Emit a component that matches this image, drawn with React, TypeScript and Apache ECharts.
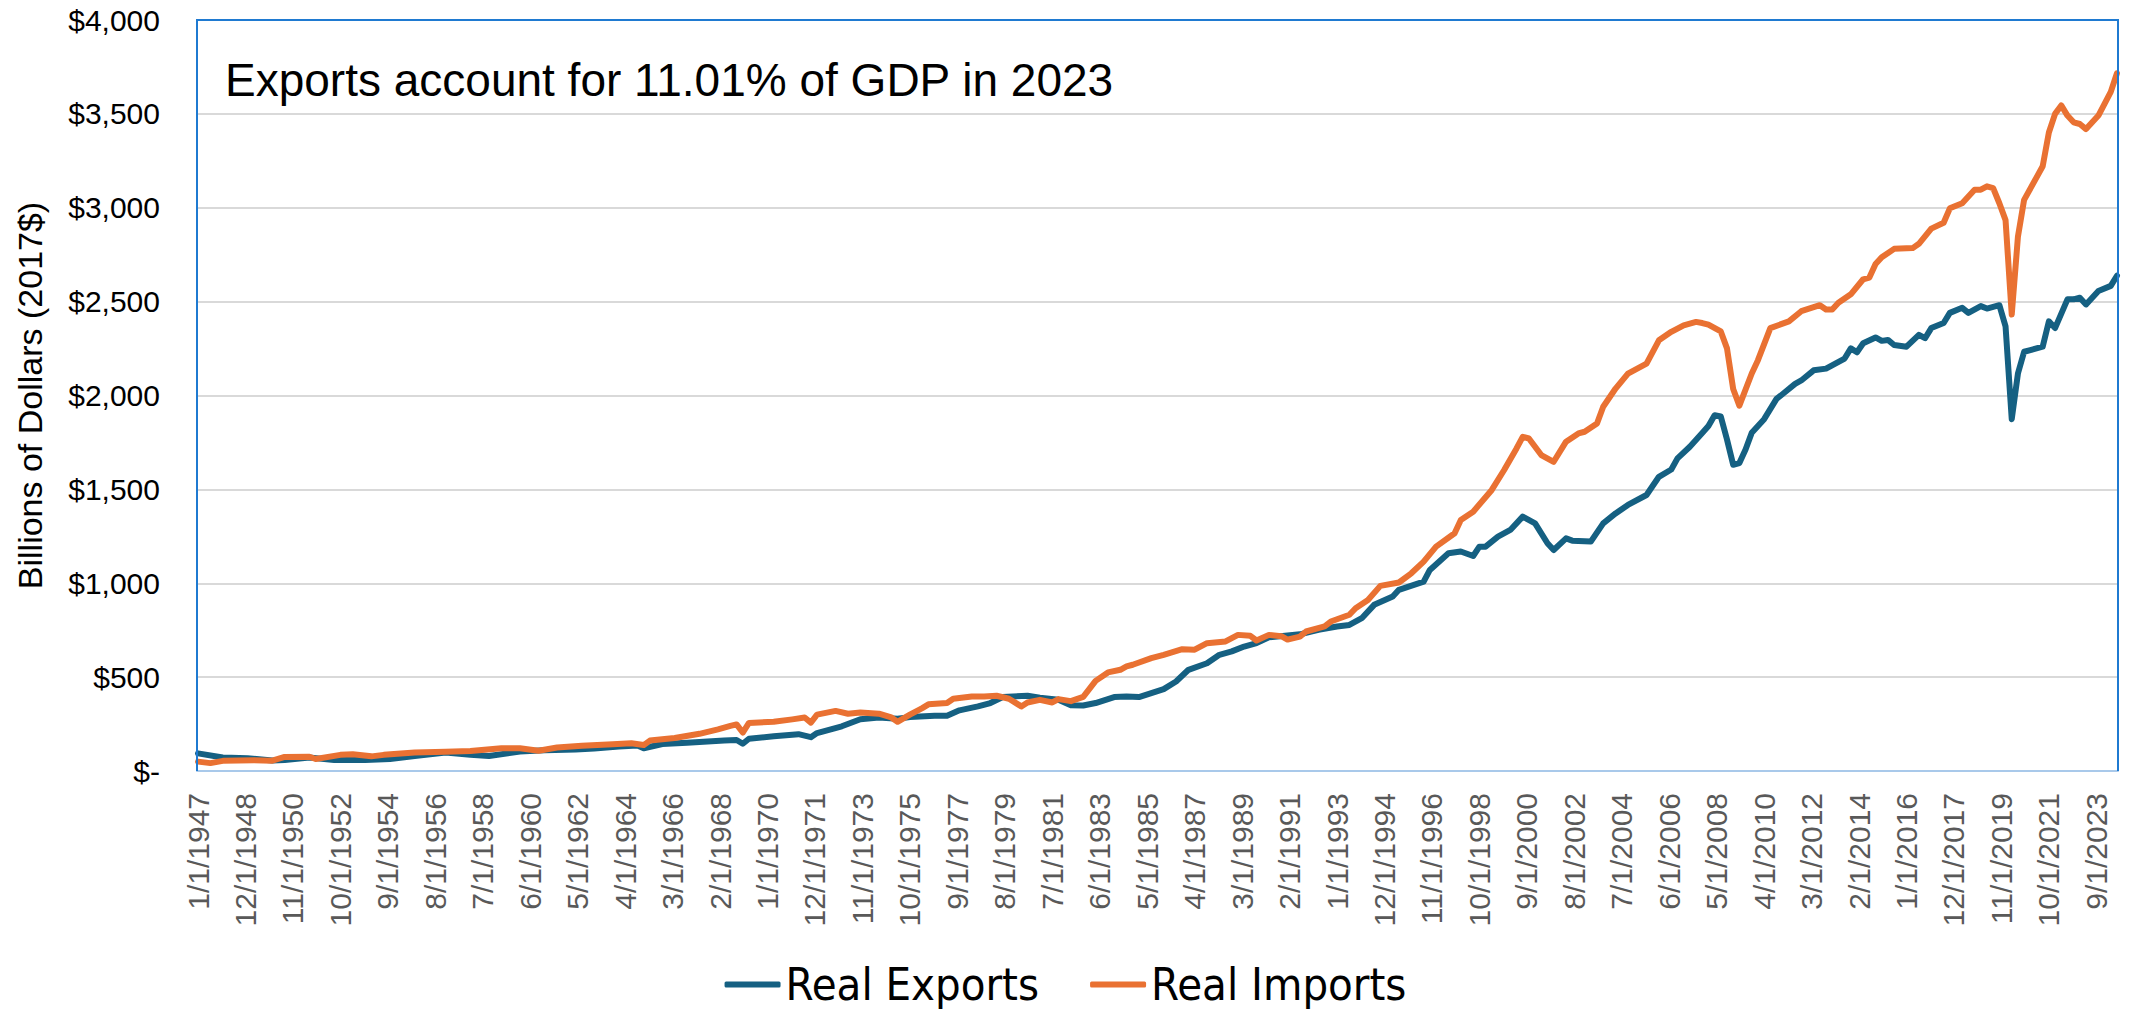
import React, { useEffect, useRef } from "react";
import * as echarts from "echarts";

// Monthly category axis 1/1/1947 .. 7/1/2024 (quarterly observations placed on it)
const startYear = 1947;
const endYear = 2024;
const endMonth = 7;
const categories: string[] = [];
for (let y = startYear; y <= endYear; y++) {
  for (let m = 1; m <= 12; m++) {
    if (y === endYear && m > endMonth) break;
    categories.push(`${m}/1/${y}`);
  }
}

const yTicks = [0, 500, 1000, 1500, 2000, 2500, 3000, 3500, 4000];

// Real Exports, billions of chained 2017 dollars
const exportsData: [string, number][] = [
  ["1947-01", 94], ["1948-01", 72], ["1949-01", 68], ["1950-01", 56], ["1950-07", 58],
  ["1951-07", 72], ["1952-07", 58], ["1953-10", 58], ["1954-10", 64], ["1955-10", 80],
  ["1957-01", 98], ["1958-01", 86], ["1958-10", 80], ["1960-01", 104], ["1961-01", 110],
  ["1962-04", 115], ["1963-01", 120], ["1964-01", 130], ["1964-10", 136], ["1965-01", 121],
  ["1965-10", 144], ["1966-10", 150], ["1968-04", 162], ["1968-10", 165], ["1969-01", 145],
  ["1969-04", 172], ["1970-04", 185], ["1971-04", 196], ["1971-10", 180], ["1972-01", 202],
  ["1973-01", 238], ["1973-10", 276], ["1974-07", 285], ["1975-04", 278], ["1975-10", 287],
  ["1976-10", 294], ["1977-04", 294], ["1977-10", 323], ["1978-07", 344], ["1979-01", 362],
  ["1979-07", 394], ["1980-07", 401], ["1981-01", 390], ["1981-10", 379], ["1982-04", 350],
  ["1982-10", 349], ["1983-04", 362], ["1984-01", 394], ["1984-07", 397], ["1985-01", 394],
  ["1985-07", 415], ["1986-01", 436], ["1986-07", 477], ["1987-01", 539], ["1987-10", 574],
  ["1988-04", 619], ["1988-10", 637], ["1989-04", 663], ["1989-10", 681], ["1990-04", 712],
  ["1991-07", 728], ["1992-04", 752], ["1993-01", 770], ["1993-07", 778], ["1994-01", 814],
  ["1994-07", 885], ["1995-04", 929], ["1995-07", 965], ["1996-07", 1009], ["1996-10", 1071],
  ["1997-07", 1160], ["1998-01", 1169], ["1998-07", 1145], ["1998-10", 1195], ["1999-01", 1195],
  ["1999-07", 1248], ["2000-01", 1284], ["2000-07", 1355], ["2001-01", 1319], ["2001-07", 1213],
  ["2001-10", 1177], ["2002-04", 1239], ["2002-07", 1227], ["2003-04", 1222], ["2003-10", 1319],
  ["2004-04", 1372], ["2004-10", 1417], ["2005-07", 1470], ["2006-01", 1567], ["2006-07", 1606],
  ["2006-10", 1665], ["2007-04", 1727], ["2007-10", 1800], ["2008-01", 1838], ["2008-04", 1895],
  ["2008-07", 1888], ["2008-10", 1766], ["2009-01", 1631], ["2009-04", 1640], ["2009-07", 1712],
  ["2009-10", 1802], ["2010-04", 1874], ["2010-10", 1982], ["2011-01", 2008], ["2011-07", 2062],
  ["2011-10", 2080], ["2012-04", 2134], ["2012-10", 2143], ["2013-07", 2197], ["2013-10", 2251],
  ["2014-01", 2230], ["2014-04", 2278], ["2014-10", 2309], ["2015-01", 2291], ["2015-04", 2296],
  ["2015-07", 2269], ["2016-01", 2260], ["2016-07", 2323], ["2016-10", 2305], ["2017-01", 2359],
  ["2017-07", 2386], ["2017-10", 2440], ["2018-04", 2467], ["2018-07", 2440], ["2019-01", 2476],
  ["2019-04", 2463], ["2019-10", 2481], ["2020-01", 2368], ["2020-04", 1874], ["2020-07", 2117],
  ["2020-10", 2233], ["2021-01", 2242], ["2021-07", 2260], ["2021-10", 2395], ["2022-01", 2359],
  ["2022-07", 2512], ["2022-10", 2512], ["2023-01", 2521], ["2023-04", 2485], ["2023-10", 2557],
  ["2024-04", 2584], ["2024-07", 2638],
];

// Real Imports, billions of chained 2017 dollars
const importsData: [string, number][] = [
  ["1947-01", 50], ["1947-07", 42], ["1948-01", 54], ["1949-04", 57], ["1950-01", 55],
  ["1950-07", 75], ["1951-07", 76], ["1951-10", 64], ["1952-10", 86], ["1953-04", 89],
  ["1954-01", 78], ["1954-07", 86], ["1955-10", 98], ["1957-01", 102], ["1958-01", 106],
  ["1959-04", 121], ["1960-01", 121], ["1960-10", 108], ["1961-07", 125], ["1962-07", 134],
  ["1963-10", 143], ["1964-07", 148], ["1965-01", 138], ["1965-04", 162], ["1966-04", 176],
  ["1967-04", 198], ["1968-01", 222], ["1968-07", 240], ["1968-10", 248], ["1969-01", 205],
  ["1969-04", 256], ["1970-04", 262], ["1971-01", 275], ["1971-07", 285], ["1971-10", 258],
  ["1972-01", 300], ["1972-10", 320], ["1973-04", 305], ["1973-10", 312], ["1974-07", 305],
  ["1975-01", 285], ["1975-04", 262], ["1975-10", 300], ["1976-04", 335], ["1976-07", 355],
  ["1977-04", 362], ["1977-07", 385], ["1978-04", 397], ["1978-10", 397], ["1979-04", 401],
  ["1979-10", 385], ["1980-04", 344], ["1980-07", 365], ["1981-01", 379], ["1981-07", 365],
  ["1981-10", 383], ["1982-04", 372], ["1982-10", 395], ["1983-04", 480], ["1983-10", 525],
  ["1984-04", 539], ["1984-07", 557], ["1984-10", 566], ["1985-07", 601], ["1986-01", 619],
  ["1986-10", 649], ["1987-04", 646], ["1987-10", 681], ["1988-07", 690], ["1989-01", 725],
  ["1989-07", 720], ["1989-10", 695], ["1990-04", 725], ["1990-10", 718], ["1991-01", 700],
  ["1991-07", 716], ["1991-10", 743], ["1992-07", 770], ["1992-10", 796], ["1993-07", 832],
  ["1993-10", 867], ["1994-04", 911], ["1994-10", 986], ["1995-07", 1004], ["1996-01", 1053],
  ["1996-07", 1115], ["1997-01", 1195], ["1997-10", 1266], ["1998-01", 1337], ["1998-07", 1381],
  ["1999-04", 1497], ["1999-10", 1603], ["2000-04", 1718], ["2000-07", 1780], ["2000-10", 1771],
  ["2001-04", 1683], ["2001-10", 1647], ["2002-04", 1754], ["2002-10", 1798], ["2003-01", 1807],
  ["2003-07", 1851], ["2003-10", 1940], ["2004-04", 2037], ["2004-10", 2117], ["2005-07", 2170],
  ["2006-01", 2294], ["2006-07", 2339], ["2007-01", 2374], ["2007-07", 2392], ["2007-10", 2386],
  ["2008-01", 2377], ["2008-07", 2341], ["2008-10", 2251], ["2009-01", 2035], ["2009-04", 1946],
  ["2009-10", 2117], ["2010-01", 2188], ["2010-07", 2359], ["2011-04", 2395], ["2011-10", 2449],
  ["2012-07", 2481], ["2012-10", 2458], ["2013-01", 2458], ["2013-04", 2494], ["2013-10", 2539],
  ["2014-04", 2619], ["2014-07", 2628], ["2014-10", 2700], ["2015-01", 2736], ["2015-07", 2781],
  ["2016-04", 2785], ["2016-07", 2808], ["2017-01", 2889], ["2017-07", 2920], ["2017-10", 2997],
  ["2018-04", 3024], ["2018-10", 3096], ["2019-01", 3096], ["2019-04", 3114], ["2019-07", 3105],
  ["2019-10", 3024], ["2020-01", 2934], ["2020-04", 2431], ["2020-07", 2845], ["2020-10", 3042],
  ["2021-07", 3221], ["2021-10", 3401], ["2022-01", 3500], ["2022-04", 3545], ["2022-07", 3491],
  ["2022-10", 3455], ["2023-01", 3446], ["2023-04", 3419], ["2023-10", 3491], ["2024-04", 3617],
  ["2024-07", 3716],
];

const titleText = "Exports account for 11.01% of GDP in 2023";
const yAxisTitle = "Billions of Dollars (2017$)";
const seriesNames = ["Real Exports", "Real Imports"];
const seriesColors = ["#156082", "#E97132"];

const toLabel = (ym: string) => {
  const [y, m] = ym.split("-");
  return `${parseInt(m, 10)}/1/${y}`;
};
const toSeries = (d: [string, number][]) => d.map(([ym, v]) => [toLabel(ym), v]);

const W = 2131;
const H = 1011;
const G = { left: 197, top: 20, right: 2118, bottom: 771 };

export default function App() {
  const ref = useRef<HTMLDivElement>(null);
  useEffect(() => {
    if (!ref.current) return;
    const chart = echarts.init(ref.current, undefined, { renderer: "svg" });
    const font = "'Liberation Sans', Arial, sans-serif";
    chart.setOption({
      animation: false,
      backgroundColor: "#ffffff",
      textStyle: { fontFamily: font },
      grid: {
        left: G.left,
        top: G.top,
        right: W - G.right,
        bottom: H - G.bottom,
        containLabel: false,
      },
      legend: {
        data: seriesNames,
        left: "center",
        top: 957,
        icon: "roundRect",
        itemWidth: 56,
        itemHeight: 6,
        itemGap: 51,
        textStyle: {
          fontFamily: "'Liberation Sans Narrow', 'Arial Narrow', 'DejaVu Sans Condensed', sans-serif",
          fontSize: 45,
          color: "#000000",
        },
      },
      xAxis: {
        type: "category",
        data: categories,
        boundaryGap: true,
        axisLine: { show: true, lineStyle: { color: "#A9C9EA", width: 2 } },
        axisTick: { show: false },
        splitLine: { show: false },
        axisLabel: {
          interval: 22,
          rotate: 90,
          margin: 22,
          fontSize: 30,
          color: "#595959",
          fontFamily: font,
        },
      },
      yAxis: {
        type: "value",
        min: yTicks[0],
        max: yTicks[yTicks.length - 1],
        interval: yTicks[1] - yTicks[0],
        axisLine: { show: false },
        axisTick: { show: false },
        splitLine: { show: true, lineStyle: { color: "#D9D9D9", width: 2 } },
        axisLabel: {
          margin: 37,
          fontSize: 30,
          color: "#000000",
          fontFamily: font,
          formatter: (v: number) => (v === 0 ? "$-" : "$" + v.toLocaleString("en-US")),
        },
      },
      graphic: [
        {
          type: "polyline",
          z: 10,
          silent: true,
          shape: {
            points: [
              [G.left, G.bottom],
              [G.left, G.top],
              [G.right, G.top],
              [G.right, G.bottom],
            ],
          },
          style: { stroke: "#1F7AD1", lineWidth: 2, fill: "none" },
        },
        {
          type: "text",
          left: 225,
          top: 57,
          silent: true,
          style: {
            text: titleText,
            fontSize: 46,
            fontFamily: font,
            fill: "#000000",
          },
        },
        {
          type: "text",
          x: 30,
          y: (G.top + G.bottom) / 2,
          rotation: Math.PI / 2,
          silent: true,
          style: {
            text: yAxisTitle,
            fontSize: 34,
            fontFamily: font,
            fill: "#000000",
            align: "center",
            verticalAlign: "middle",
          },
        },
      ],
      series: [
        {
          name: seriesNames[0],
          type: "line",
          data: toSeries(exportsData),
          showSymbol: false,
          symbol: "none",
          smooth: false,
          lineStyle: { color: seriesColors[0], width: 6, join: "round", cap: "round" },
          itemStyle: { color: seriesColors[0] },
        },
        {
          name: seriesNames[1],
          type: "line",
          data: toSeries(importsData),
          showSymbol: false,
          symbol: "none",
          smooth: false,
          lineStyle: { color: seriesColors[1], width: 6, join: "round", cap: "round" },
          itemStyle: { color: seriesColors[1] },
        },
      ],
    });
    return () => chart.dispose();
  }, []);
  return (
    <div
      ref={ref}
      style={{ position: "fixed", left: 0, top: 0, width: W, height: H }}
    />
  );
}
